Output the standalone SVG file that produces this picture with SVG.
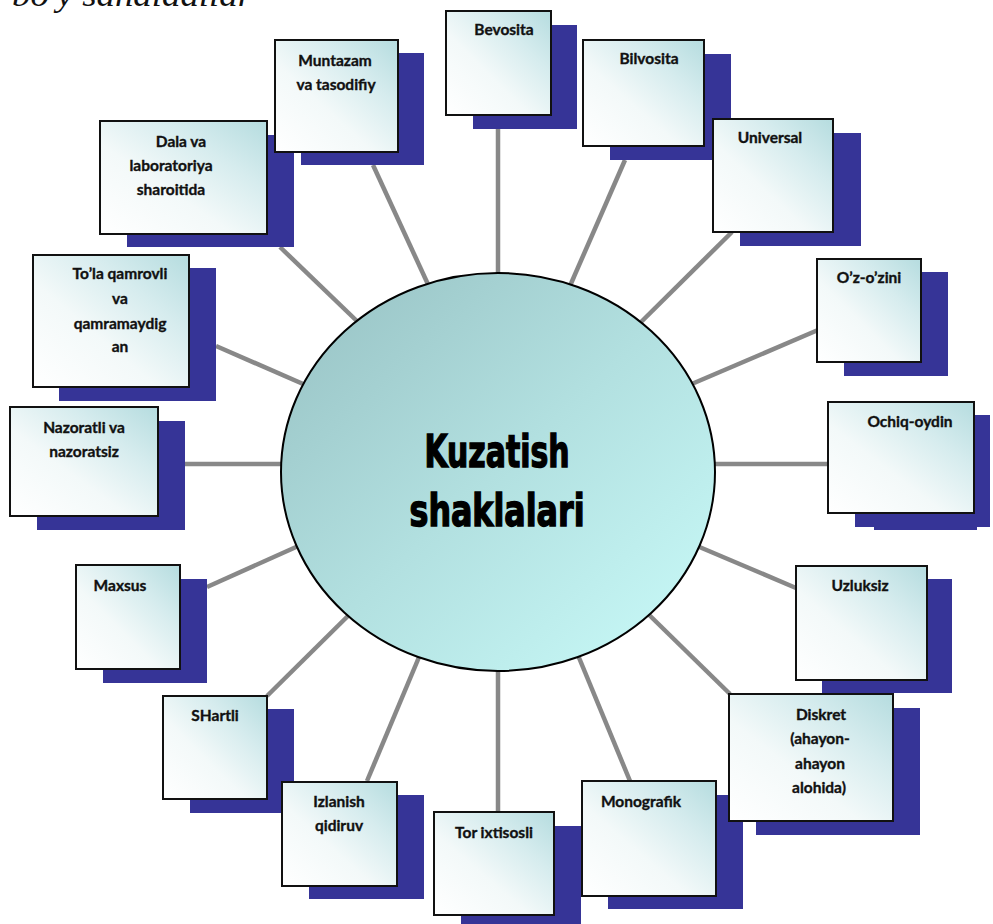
<svg xmlns="http://www.w3.org/2000/svg" width="993" height="924" viewBox="0 0 993 924">
<defs>
<linearGradient id="boxg" x1="1" y1="0" x2="0" y2="1">
<stop offset="0" stop-color="#b5dcdf"/>
<stop offset="0.3" stop-color="#d6ecee"/>
<stop offset="0.6" stop-color="#f3f9f9"/>
<stop offset="1" stop-color="#ffffff"/>
</linearGradient>
<linearGradient id="ellg" x1="0" y1="0" x2="1" y2="1">
<stop offset="0" stop-color="#96c0c2"/>
<stop offset="0.5" stop-color="#b2e0e0"/>
<stop offset="1" stop-color="#cafcfa"/>
</linearGradient>
</defs>
<style>
.sh{fill:#363497}
.bx{fill:url(#boxg);stroke:#111;stroke-width:2}
.t{font-family:Lato,"Open Sans","DejaVu Sans",sans-serif;font-weight:bold;font-size:15.5px;fill:#111;stroke:#111;stroke-width:0.35;text-anchor:middle}
.c line{stroke:#888;stroke-width:4.5}
.ct{font-family:Impact,"Liberation Sans Narrow","DejaVu Sans Condensed",sans-serif;font-weight:bold;font-size:44px;fill:#000;stroke:#000;stroke-width:1.4;text-anchor:middle}
</style>
<rect width="993" height="924" fill="#fff"/>
<text x="12" y="6" font-family="Liberation Serif,serif" font-style="italic" font-size="34" textLength="240" lengthAdjust="spacingAndGlyphs" fill="#111">bo'y sanaladilar</text>
<g id="connectors" class="c">
<line x1="498" y1="129" x2="498" y2="290"/>
<line x1="625" y1="160" x2="566" y2="295"/>
<line x1="732" y1="232" x2="635" y2="328"/>
<line x1="818" y1="330" x2="680" y2="389"/>
<line x1="828" y1="464" x2="700" y2="464"/>
<line x1="796" y1="588" x2="690" y2="543"/>
<line x1="730" y1="694" x2="640" y2="606"/>
<line x1="630" y1="781" x2="575" y2="648"/>
<line x1="498" y1="812" x2="498" y2="660"/>
<line x1="367" y1="781" x2="422" y2="650"/>
<line x1="267" y1="696" x2="355" y2="609"/>
<line x1="207" y1="587" x2="305" y2="543"/>
<line x1="185" y1="464" x2="295" y2="464"/>
<line x1="216" y1="346" x2="310" y2="387"/>
<line x1="280" y1="247" x2="360" y2="324"/>
<line x1="373" y1="165" x2="432" y2="293"/>
</g>
<g id="center">
<ellipse cx="498" cy="472" rx="217" ry="199" fill="url(#ellg)" stroke="#000" stroke-width="2"/>
<text class="ct" x="497" y="467" textLength="145" lengthAdjust="spacingAndGlyphs">Kuzatish</text>
<text class="ct" x="497" y="526" textLength="175" lengthAdjust="spacingAndGlyphs">shaklalari</text>
</g>
<g id="n-dala"><rect class="sh" x="127" y="135" width="167" height="112"/><rect class="bx" x="100" y="121" width="167" height="113"/>
<text class="t"><tspan x="181" y="147">Dala va</tspan><tspan x="171" y="171">laboratoriya</tspan><tspan x="171" y="195">sharoitida</tspan></text></g>
<g id="n-muntazam"><rect class="sh" x="301" y="53" width="123" height="112"/><rect class="bx" x="275" y="40" width="123" height="112"/>
<text class="t"><tspan x="335" y="66">Muntazam</tspan><tspan x="336" y="90">va tasodifiy</tspan></text></g>
<g id="n-bevosita"><rect class="sh" x="473" y="25" width="104" height="104"/><rect class="bx" x="446" y="11" width="105" height="104"/>
<text class="t" x="504" y="35">Bevosita</text></g>
<g id="n-bilvosita"><rect class="sh" x="610" y="54" width="121" height="106"/><rect class="bx" x="583" y="40" width="121" height="106"/>
<text class="t" x="649" y="64">Bilvosita</text></g>
<g id="n-universal"><rect class="sh" x="740" y="133" width="121" height="113"/><rect class="bx" x="713" y="119" width="120" height="113"/>
<text class="t" x="770" y="143">Universal</text></g>
<g id="n-ozozini"><rect class="sh" x="844" y="272" width="104" height="104"/><rect class="bx" x="817" y="259" width="104" height="103"/>
<text class="t" x="869" y="283">O’z-o’zini</text></g>
<g id="n-ochiq"><rect class="sh" x="874" y="520" width="103" height="10"/><rect class="sh" x="855" y="415" width="135" height="112"/><rect class="bx" x="828" y="402" width="146" height="111"/>
<text class="t" x="910" y="427">Ochiq-oydin</text></g>
<g id="n-uzluksiz"><rect class="sh" x="822" y="579" width="130" height="114"/><rect class="bx" x="796" y="566" width="131" height="114"/>
<text class="t" x="860" y="591">Uzluksiz</text></g>
<g id="n-monografik"><rect class="sh" x="608" y="795" width="135" height="114"/><rect class="bx" x="582" y="781" width="134" height="115"/>
<text class="t" x="641" y="807">Monografik</text></g>
<g id="n-diskret"><rect class="sh" x="756" y="708" width="164" height="127"/><rect class="bx" x="729" y="694" width="164" height="127"/>
<text class="t"><tspan x="821" y="720">Diskret</tspan><tspan x="820" y="744">(ahayon-</tspan><tspan x="820" y="769">ahayon</tspan><tspan x="819" y="793">alohida)</tspan></text></g>
<g id="n-tor"><rect class="sh" x="461" y="826" width="120" height="100"/><rect class="bx" x="434" y="812" width="120" height="103"/>
<text class="t" x="494" y="838">Tor ixtisosli</text></g>
<g id="n-shartli"><rect class="sh" x="190" y="709" width="104" height="104"/><rect class="bx" x="163" y="696" width="104" height="103"/>
<text class="t" x="215" y="721">SHartli</text></g>
<g id="n-izlanish"><rect class="sh" x="309" y="795" width="115" height="104"/><rect class="bx" x="282" y="782" width="115" height="104"/>
<text class="t"><tspan x="339" y="807">Izlanish</tspan><tspan x="339" y="831">qidiruv</tspan></text></g>
<g id="n-maxsus"><rect class="sh" x="103" y="579" width="104" height="104"/><rect class="bx" x="76" y="565" width="104" height="104"/>
<text class="t" x="120" y="591">Maxsus</text></g>
<g id="n-nazoratli"><rect class="sh" x="37" y="421" width="148" height="109"/><rect class="bx" x="10" y="407" width="148" height="109"/>
<text class="t"><tspan x="84" y="433">Nazoratli va</tspan><tspan x="84" y="457">nazoratsiz</tspan></text></g>
<g id="n-tola"><rect class="sh" x="59" y="268" width="157" height="133"/><rect class="bx" x="33" y="255" width="156" height="132"/>
<text class="t"><tspan x="120" y="279">To’la qamrovli</tspan><tspan x="120" y="304">va</tspan><tspan x="120" y="329">qamramaydig</tspan><tspan x="120" y="352">an</tspan></text></g>
</svg>
